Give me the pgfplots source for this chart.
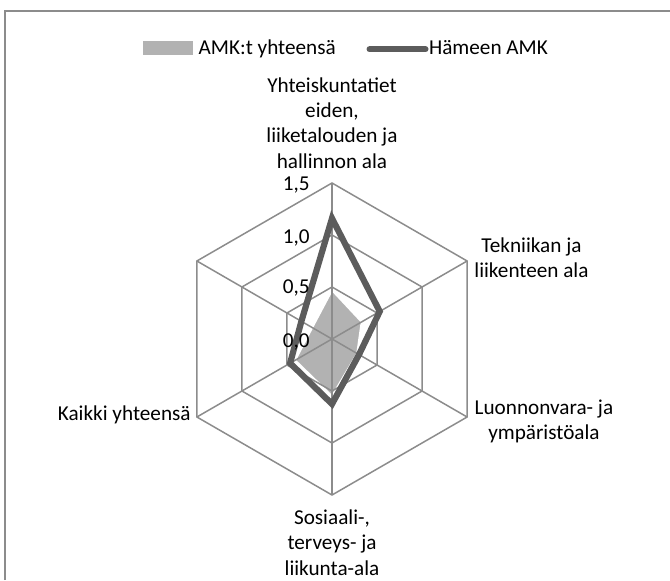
\documentclass[border=0pt]{standalone}
\usepackage{pgfplots}
\usepackage{pgfplotstable}
\pgfplotsset{compat=1.18}
\usepackage{fontspec}
\setmainfont{Carlito}
\definecolor{gridcol}{RGB}{140,140,140}
\definecolor{amkfill}{RGB}{178,178,178}
\definecolor{hamk}{RGB}{92,92,92}
\tikzset{lab/.style={font=\fontsize{10.6}{12.7}\selectfont, align=center, inner sep=0pt, text=black}}

% angle (deg, clockwise from top as in the chart), values
\pgfplotstableread{
angle amk hamk
90   0.47 1.16
30   0.33 0.53
-30  0.28 0.30
-90  0.55 0.625
-150 0.41 0.465
150  0.22 0.34
}\radardata

\begin{document}
\begin{tikzpicture}
\begin{axis}[
  x=52pt, y=52pt, scale only axis, hide axis,
  xmin=-3.1923, xmax=3.25, ymin=-2.3173, ymax=3.2596,
  clip=false,
]
% area series
\addplot[data cs=polar, fill=amkfill, draw=white, line width=1pt]
  table[x=angle, y=amk] {\radardata} -- cycle;
% grid rings
\addplot[data cs=polar, gridcol, line width=0.75pt]
  coordinates {(90,0.5)(30,0.5)(-30,0.5)(-90,0.5)(-150,0.5)(150,0.5)} -- cycle;
\addplot[data cs=polar, gridcol, line width=0.75pt]
  coordinates {(90,1)(30,1)(-30,1)(-90,1)(-150,1)(150,1)} -- cycle;
\addplot[data cs=polar, gridcol, line width=0.75pt]
  coordinates {(90,1.5)(30,1.5)(-30,1.5)(-90,1.5)(-150,1.5)(150,1.5)} -- cycle;
% spokes
\addplot[data cs=polar, gridcol, line width=0.75pt] coordinates {(90,0)(90,1.5)};
\addplot[data cs=polar, gridcol, line width=0.75pt] coordinates {(30,0)(30,1.5)};
\addplot[data cs=polar, gridcol, line width=0.75pt] coordinates {(-30,0)(-30,1.5)};
\addplot[data cs=polar, gridcol, line width=0.75pt] coordinates {(-90,0)(-90,1.5)};
\addplot[data cs=polar, gridcol, line width=0.75pt] coordinates {(-150,0)(-150,1.5)};
\addplot[data cs=polar, gridcol, line width=0.75pt] coordinates {(150,0)(150,1.5)};
% line series
\addplot[data cs=polar, draw=hamk, line width=3.1pt, line join=miter, miter limit=4]
  table[x=angle, y=hamk] {\radardata} -- cycle;

% tick labels
\node[lab, anchor=east] at (axis cs:-0.212,1.481) {1,5};
\node[lab, anchor=east] at (axis cs:-0.212,0.971) {1,0};
\node[lab, anchor=east] at (axis cs:-0.212,0.490) {0,5};
\node[lab, anchor=east] at (axis cs:-0.212,-0.029) {0,0};

% category labels
\node[lab] at (axis cs:0,2.077) {Yhteiskuntatiet\\eiden,\\liiketalouden ja\\hallinnon ala};
\node[lab] at (axis cs:1.918,0.784) {Tekniikan ja\\liikenteen ala};
\node[lab] at (axis cs:2.038,-0.793) {Luonnonvara- ja\\ympäristöala};
\node[lab] at (axis cs:0,-1.955) {Sosiaali-,\\terveys- ja\\liikunta-ala};
\node[lab, anchor=east] at (axis cs:-1.356,-0.731) {Kaikki yhteensä};

% legend
\fill[amkfill] (axis cs:-1.820,2.731) rectangle (axis cs:-1.339,2.865);
\node[lab, anchor=base west] at (axis cs:-1.286,2.731) {AMK:t yhteensä};
\draw[hamk, line width=3pt, line cap=round] (axis cs:0.361,2.785) -- (axis cs:0.899,2.785);
\node[lab, anchor=base west] at (axis cs:0.93,2.731) {Hämeen AMK};

% chart border (top and left visible)
\draw[gridcol, line width=1pt] (axis cs:-3.144,-2.3173) -- (axis cs:-3.144,3.149) -- (axis cs:3.25,3.149);
\end{axis}
\pgfresetboundingbox
\path[use as bounding box] (current axis.south west) rectangle (current axis.north east);
\end{tikzpicture}
\end{document}
